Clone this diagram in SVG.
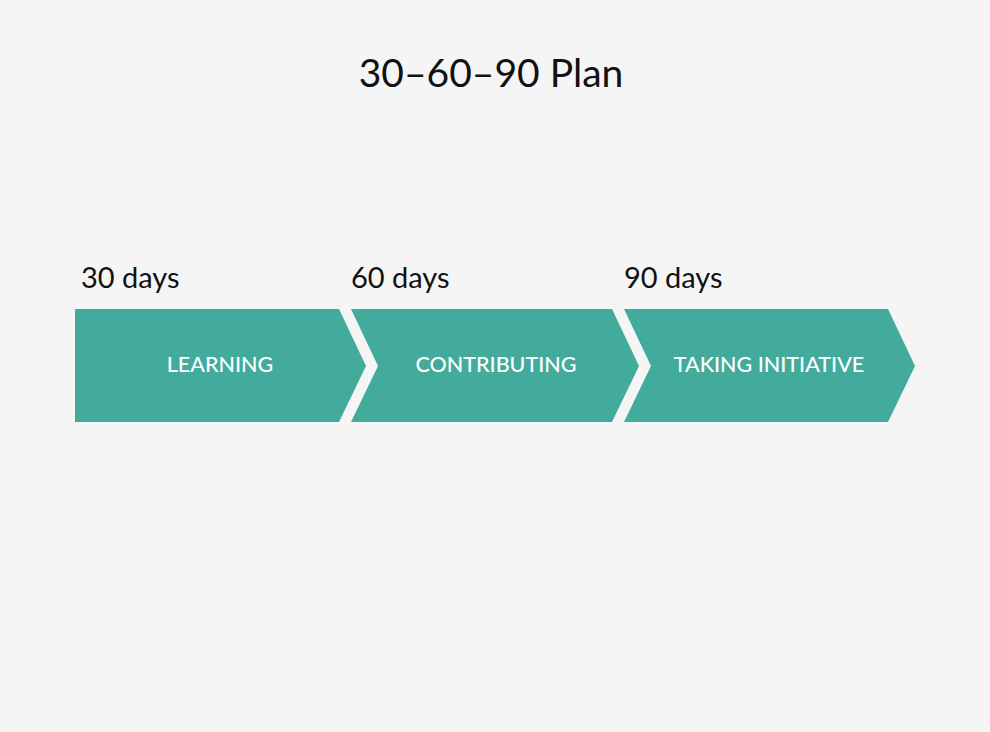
<svg xmlns="http://www.w3.org/2000/svg" width="990" height="732" viewBox="0 0 990 732">
<style>
.title{font-family:"Lato","Liberation Sans",sans-serif;font-size:39px;fill:#111}
.day{font-family:"Lato","Liberation Sans",sans-serif;font-size:29px;fill:#111}
.step{fill:#42ab9c}
.lbl{font-family:"Lato","Liberation Sans",sans-serif;font-size:21.5px;font-weight:500;fill:#fff;text-anchor:middle}
</style>
<rect width="990" height="732" fill="#f5f5f5"/>
<text class="title" x="491" y="87" text-anchor="middle">30–60–90 Plan</text>
<g id="learning">
<path class="step" d="M75 309 H339 L366 366 L339 422 H75 Z"/>
<text class="day" x="81" y="288">30 days</text>
<text class="lbl" x="220" y="372">LEARNING</text>
</g>
<g id="contributing">
<path class="step" d="M351 309 H612 L639 366 L612 422 H351 L378 366 Z"/>
<text class="day" x="351" y="288">60 days</text>
<text class="lbl" x="496" y="372">CONTRIBUTING</text>
</g>
<g id="taking-initiative">
<path class="step" d="M624 309 H888 L915 366 L888 422 H624 L651 366 Z"/>
<text class="day" x="624" y="288">90 days</text>
<text class="lbl" x="769" y="372">TAKING INITIATIVE</text>
</g>
<g id="connectors"/>
</svg>
